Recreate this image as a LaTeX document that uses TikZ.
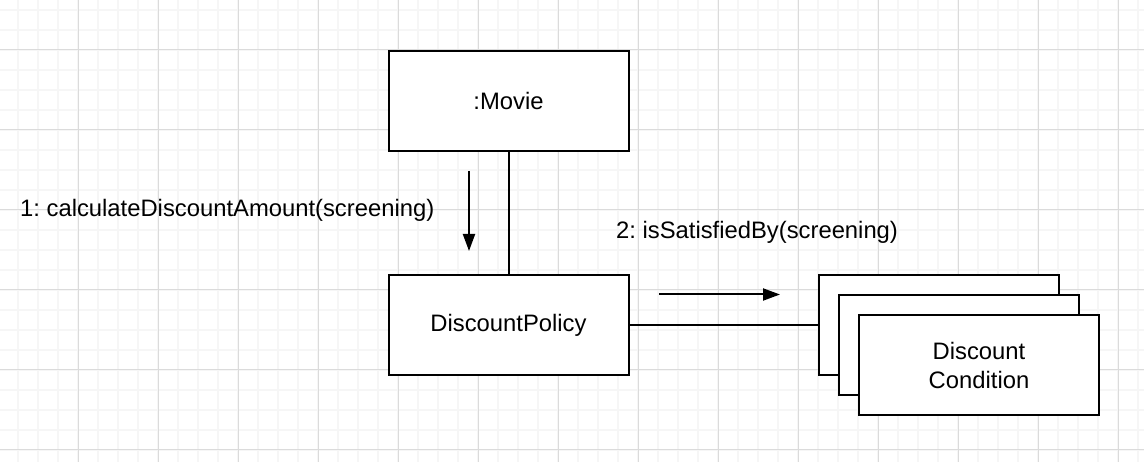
\documentclass[tikz,border=0pt]{standalone}
\usepackage{fontspec}
\setmainfont{Liberation Sans}
\usetikzlibrary{arrows.meta}
\frenchspacing
\tikzset{
  minorgrid/.style={draw=black!3.5, line width=1.2bp},
  majorgrid/.style={draw=black!14, line width=1bp},
  umlbox/.style={draw=black, fill=white, line width=2bp, minimum width=240bp, minimum height=100bp, inner sep=0pt, align=center, font=\fontsize{23.8bp}{29bp}\selectfont},
  msglabel/.style={inner sep=0pt, anchor=base west, font=\fontsize{23.8bp}{29bp}\selectfont},
  link/.style={line width=2bp, draw=black},
  msgarrow/.style={line width=2bp, draw=black, -{Triangle[length=17bp,width=12bp]}}
}
\begin{document}
\begin{tikzpicture}[x=1bp,y=-1bp]
\useasboundingbox (0,0) rectangle (1144,462);
\fill[white] (0,0) rectangle (1144,462);
% grid
\foreach \x in {18,38,...,1138} \draw[minorgrid] (\x,0) -- (\x,462);
\foreach \y in {10,30,...,450} \draw[minorgrid] (0,\y) -- (1144,\y);
\foreach \x in {78,158,...,1118} \draw[majorgrid] (\x,0) -- (\x,462);
\foreach \y in {50,130,...,450} \draw[majorgrid] (0,\y) -- (1144,\y);
% boxes
\node[umlbox] (movie) at (508.5,101) {:Movie};
\node[umlbox] (policy) at (508.5,325) {DiscountPolicy};
\node[umlbox] (cond1) at (939,325) {};
\node[umlbox] (cond2) at (959,345) {};
\node[umlbox] (cond3) at (979,365) {Discount\\Condition};
% links
\draw[link] (movie.south) -- (policy.north);
\draw[link] (policy.east) -- (cond1.west);
% messages
\coordinate (m1s) at (469,171);
\coordinate (m1e) at (469,251);
\draw[msgarrow] (m1s) -- (m1e);
\coordinate (m2s) at (659,294.5);
\coordinate (m2e) at (780,294.5);
\draw[msgarrow] (m2s) -- (m2e);
\node[msglabel] (l1) at (20,217) {1: calculateDiscountAmount(screening)};
\node[msglabel] (l2) at (616,239) {2: isSatisfiedBy(screening)};
\end{tikzpicture}
\end{document}
